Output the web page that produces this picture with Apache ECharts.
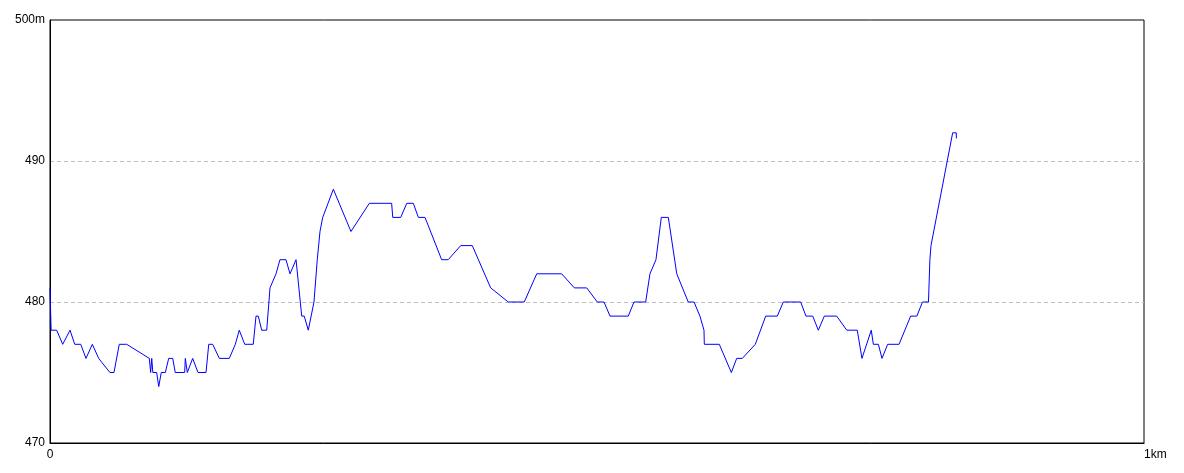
<!DOCTYPE html>
<html>
<head>
<meta charset="utf-8">
<script src="https://cdn.jsdelivr.net/npm/echarts@6/dist/echarts.min.js"></script>
<style>html,body{margin:0;padding:0;background:#fff}#c{width:1184px;height:473px}</style>
</head>
<body>
<div id="c"></div>
<script>
// distance (m) along the route
const distances = [0,1,6.1,11.6,18.3,22.6,28.1,32.9,38.7,44.5,54.8,58.5,63.3,70.1,90.8,92,93,94,97.5,99.4,101.7,105.4,108.5,112.2,114.5,123.1,123.7,125.5,130.4,135.3,142.6,145.1,148.7,154.8,163.9,169.4,173.0,178.0,185.8,188.3,190.4,193.5,198.1,201.1,206.6,210.2,215.7,219.4,224.9,230.1,232.4,236.1,241.3,244.3,246.8,249.3,259.0,275.1,291.9,312.3,313.3,320.6,326.1,332.1,336.7,342.8,358.0,364.0,375.4,386.0,402.8,418.9,433.5,444.9,467.7,479.3,490.6,500.3,506.4,511.9,528.6,533.8,544.5,548.4,553.9,558.8,565.2,572.9,583.4,588.7,594.1,597.8,598.1,611.8,622.8,627.7,632.8,644.7,654.2,664.8,670.3,686.2,691.0,697.2,702.3,707.8,719.1,728.3,737.9,742.2,750.7,752.6,757.2,760.5,765.7,776.1,786.7,792.4,797.5,803.0,804.3,805.3,825.1,828.4,828.5];
// elevation (m)
const elevations = [481,478,478,477,478,477,477,476,477,476,475,475,477,477,476,475,476,475,475,474,475,475,476,476,475,475,476,475,476,475,475,477,477,476,476,477,478,477,477,479,479,478,478,481,482,483,483,482,483,479,479,478,480,483,485,486,488,485,487,487,486,486,487,487,486,486,483,483,484,484,481,480,480,482,482,481,481,480,480,479,479,480,480,482,483,486,486,482,480,480,479,478,477,477,475,476,476,477,479,479,480,480,479,479,478,479,479,478,478,476,478,477,477,476,477,477,479,479,480,480,483,484,492,492,491.6];
const yTicks = [470,480,490,500];
const xTicks = [0,1000];

const chart = echarts.init(document.getElementById('c'), null, {renderer:'canvas'});
chart.setOption({
  animation:false,
  backgroundColor:'#ffffff',
  grid:{left:50,right:40,top:20,bottom:30,show:true,borderColor:'#000',borderWidth:1,backgroundColor:'transparent'},
  xAxis:{
    type:'value',min:xTicks[0],max:xTicks[1],interval:1000,
    axisLine:{show:true,lineStyle:{color:'#000',width:1}},
    axisTick:{show:false},
    splitLine:{show:false},
    axisLabel:{color:'#000',fontSize:12,fontFamily:'Liberation Sans, Arial, sans-serif',margin:6,
      alignMaxLabel:'left',
      formatter:function(v){return v===1000?'1km':String(v);}}
  },
  yAxis:{
    type:'value',min:yTicks[0],max:yTicks[3],interval:10,
    axisLine:{show:true,lineStyle:{color:'#000',width:1}},
    axisTick:{show:false},
    splitLine:{show:true,showMinLine:false,showMaxLine:false,lineStyle:{color:'#c0c0c0',type:[4,3],width:1}},
    axisLabel:{color:'#000',fontSize:12,fontFamily:'Liberation Sans, Arial, sans-serif',margin:5,
      formatter:function(v){return v===500?'500m':String(v);}}
  },
  series:[{
    type:'line',
    data:distances.map((d,i)=>[d,elevations[i]]),
    showSymbol:false,symbol:'none',
    lineStyle:{color:'#0000ff',width:1},
    silent:true
  }]
});
</script>
</body>
</html>
